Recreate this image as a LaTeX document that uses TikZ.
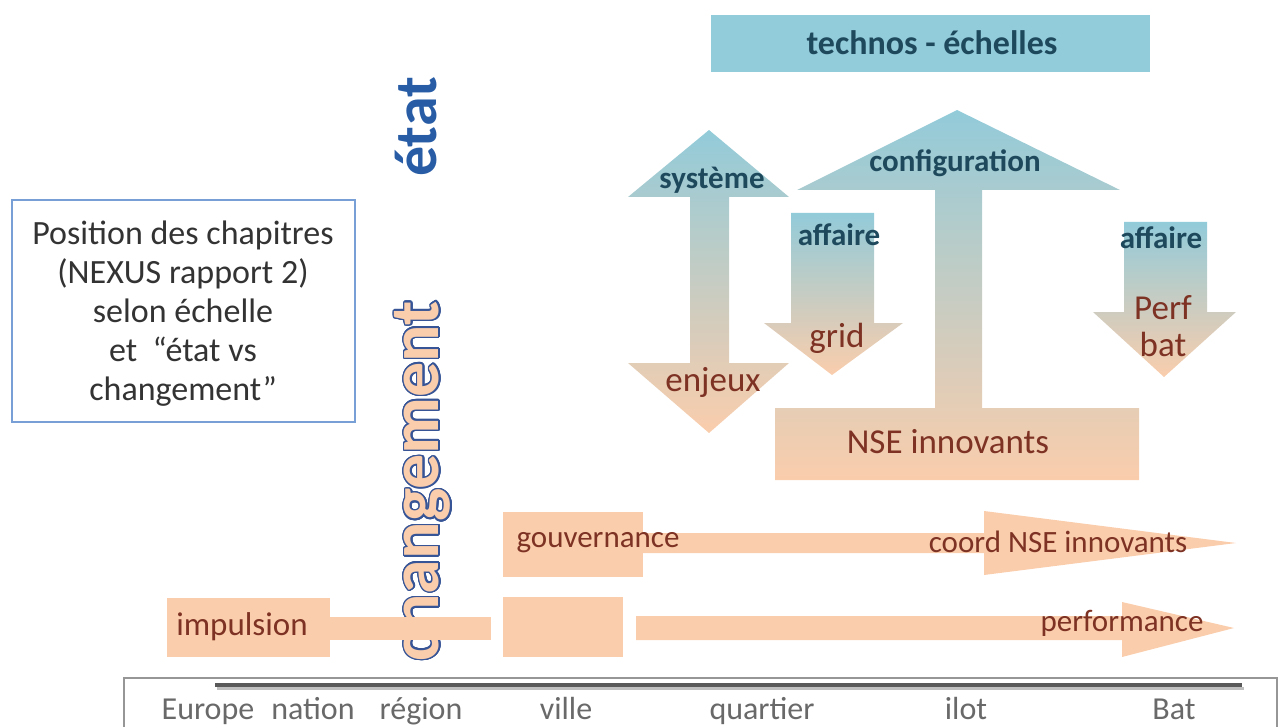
\documentclass[tikz,border=0pt]{standalone}
\usepackage{fontspec}
\setmainfont{Carlito}
\usepackage{contour}
\contourlength{1.5pt}
\contournumber{24}

\definecolor{techblue}{RGB}{146,203,217}
\definecolor{peach}{RGB}{250,205,172}
\definecolor{tealtext}{RGB}{30,72,92}
\definecolor{browntext}{RGB}{125,50,35}
\definecolor{etatblue}{RGB}{40,92,165}
\definecolor{chgline}{RGB}{55,85,150}
\definecolor{boxline}{RGB}{120,160,215}
\definecolor{axisgray}{RGB}{105,105,105}

\tikzset{
	blueword/.style={font=\bfseries\fontsize{31}{31}\selectfont, text=tealtext},
	peachword/.style={font=\fontsize{35}{37}\selectfont, text=browntext, align=center},
	flowword/.style={font=\fontsize{31}{31}\selectfont, text=browntext},
	scaleword/.style={font=\fontsize{32}{32}\selectfont, text=axisgray, anchor=base},
	gradfill/.style={top color=techblue, bottom color=peach},
}

\begin{document}
\begin{tikzpicture}[x=1pt, y=-1pt]
	\useasboundingbox (0, 0) rectangle (1279, 727);
	
	% legend box
	\draw [boxline, line width=1.5pt] (12, 200) rectangle (355, 422);
	\node (legend) at (183, 314) [align=center, text=black!80, font=\fontsize{34}{39}\selectfont] {Position des chapitres\\(NEXUS rapport 2)\\selon échelle\\et ~``état vs\\changement''};
	
	% etat / changement
	\node (etat) at (416, 127) [rotate=90, text=etatblue, font=\bfseries\fontsize{60}{60}\selectfont] {état};
	\node (chg) at (421, 481) [rotate=90, text=peach, font=\bfseries\fontsize{70}{70}\selectfont] {\contour{chgline}{changement}};
	
	% top box
	\fill [techblue] (711, 15) rectangle (1150, 72);
	\node (technos) at (932, 43) [blueword, font=\bfseries\fontsize{34}{34}\selectfont] {technos - échelles};
	
	% systeme / enjeux
	\shade [gradfill] (709, 130) -- (789, 197) -- (729, 197) -- (729, 363) -- (789, 363) -- (709, 433) -- (628, 363) -- (690, 363) -- (690, 197) -- (628, 197) -- cycle;
	\node (systeme) at (712, 180) [blueword] {système};
	\node (enjeux) at (713, 382) [peachword] {enjeux};
	
	% affaire / grid
	\shade [gradfill] (791, 213) -- (874, 213) -- (874, 323) -- (903, 323) -- (832, 375) -- (764, 323) -- (791, 323) -- cycle;
	\node (affaireA) at (839, 235) [blueword] {affaire};
	\node (grid) at (837, 338) [peachword] {grid};
	
	% configuration / NSE innovants
	\shade [gradfill] (957, 110) -- (1120, 190) -- (982, 190) -- (982, 408) -- (1139, 408) -- (1139, 480) -- (775, 480) -- (775, 408) -- (935, 408) -- (935, 190) -- (797, 190) -- cycle;
	\node (config) at (955, 163) [blueword] {configuration};
	\node (nse) at (948, 442) [peachword] {NSE innovants};
	
	% affaire / Perf bat
	\shade [gradfill] (1124, 222) -- (1207, 222) -- (1207, 312) -- (1236, 312) -- (1164, 377) -- (1093, 312) -- (1124, 312) -- cycle;
	\node (affaireB) at (1161, 238) [blueword] {affaire};
	\node (perf) at (1163, 326) [peachword] {Perf\\bat};
	
	% gouvernance -> coord NSE innovants
	\fill [peach] (503, 512) rectangle (643, 577);
	\fill [peach] (643, 533) -- (984, 533) -- (984, 511) -- (1236, 543) -- (984, 575) -- (984, 553) -- (643, 553) -- cycle;
	\node (gouv) at (598, 543) [flowword] {gouvernance};
	\node (coord) at (1058, 542) [flowword] {coord NSE innovants};
	
	% impulsion -> performance
	\fill [peach] (167, 598) rectangle (330, 657);
	\fill [peach] (330, 617) rectangle (491, 640);
	\fill [peach] (503, 597) rectangle (623, 657);
	\fill [peach] (636, 616) -- (1122, 616) -- (1122, 602) -- (1234, 628) -- (1122, 657) -- (1122, 640) -- (636, 640) -- cycle;
	\node (impulsion) at (242, 627) [flowword, font=\fontsize{33}{33}\selectfont] {impulsion};
	\node (perfo) at (1122, 623) [flowword] {performance};
	
	% scale axis
	\draw [axisgray!70, line width=1.2pt] (124, 740) -- (124, 678) -- (1277, 678) -- (1277, 740);
	\draw [black!25, line width=3pt] (217, 688) -- (1244, 688);
	\draw [black!65, line width=3.5pt] (215, 685) -- (1242, 685);
	\node (europe) at (208, 719) [scaleword] {Europe};
	\node (nation) at (313, 719) [scaleword] {nation};
	\node (region) at (421, 719) [scaleword] {région};
	\node (ville) at (566, 719) [scaleword] {ville};
	\node (quartier) at (762, 719) [scaleword] {quartier};
	\node (ilot) at (966, 719) [scaleword] {ilot};
	\node (bat) at (1174, 719) [scaleword] {Bat};
\end{tikzpicture}
\end{document}
